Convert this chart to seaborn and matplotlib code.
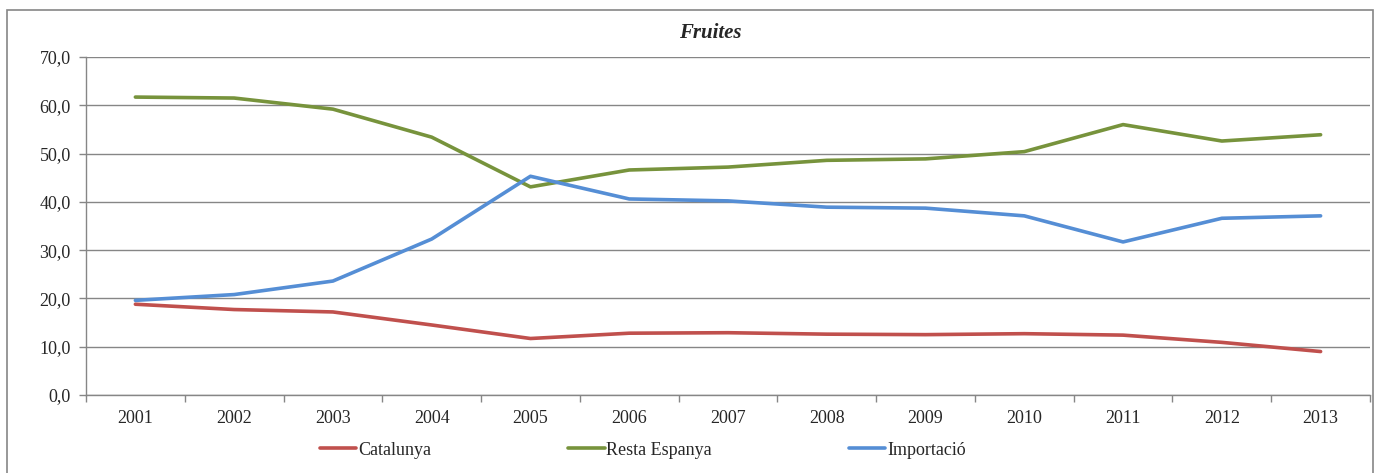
import numpy as np
import pandas as pd
import seaborn as sns
import matplotlib.pyplot as plt
from matplotlib.patches import Rectangle
from matplotlib.ticker import FuncFormatter, FixedLocator

years = ['2001', '2002', '2003', '2004', '2005', '2006', '2007',
         '2008', '2009', '2010', '2011', '2012', '2013']
catalunya = [18.8, 17.7, 17.2, 14.5, 11.7, 12.8, 12.9, 12.6, 12.5, 12.7, 12.4, 10.9, 9.0]
resta_espanya = [61.7, 61.5, 59.2, 53.4, 43.1, 46.6, 47.2, 48.6, 48.9, 50.4, 56.0, 52.6, 53.9]
importacio = [19.6, 20.8, 23.6, 32.3, 45.3, 40.6, 40.2, 38.9, 38.7, 37.1, 31.7, 36.6, 37.1]

series = ['Catalunya', 'Resta Espanya', 'Importació']
colors = ['#C0504D', '#77933C', '#558ED5']

df = pd.concat([
    pd.DataFrame({'year': years, 'pos': np.arange(len(years)), 'value': v, 'name': n})
    for n, v in zip(series, [catalunya, resta_espanya, importacio])
])

sns.set_style('white')
plt.rcParams['font.family'] = ['Liberation Serif', 'DejaVu Serif']

fig = plt.figure(figsize=(13.81, 4.73), dpi=100)
ax = fig.add_axes([86/1381, 1-395/473, (1370-86)/1381, (395-57)/473])

sns.lineplot(ax=ax, data=df, x='pos', y='value', hue='name', hue_order=series,
             palette=colors, linewidth=2.6, legend=False)

ax.set_xlim(-0.5, len(years) - 0.5)
ax.set_ylim(0, 70)
ax.set_yticks(np.arange(0, 71, 10))
ax.yaxis.set_major_formatter(FuncFormatter(lambda v, p: f'{v:.1f}'.replace('.', ',')))
ax.set_xticks(np.arange(len(years)))
ax.set_xticklabels(years)
ax.xaxis.set_minor_locator(FixedLocator(np.arange(-0.5, len(years), 1)))
ax.tick_params(axis='x', which='major', length=0, labelsize=13, pad=11)
ax.tick_params(axis='x', which='minor', length=5, color='#868686', width=1, direction='out', bottom=True)
ax.tick_params(axis='y', length=5, color='#868686', width=1, direction='out', labelsize=13, pad=6, left=True)
ax.set_xlabel('')
ax.set_ylabel('')
ax.grid(axis='y', color='#868686', linewidth=1)
ax.set_axisbelow(True)
for s in ['top', 'right']:
    ax.spines[s].set_visible(False)
for s in ['left', 'bottom']:
    ax.spines[s].set_color('#868686')
    ax.spines[s].set_linewidth(1)

fig.text(710/1381, 1-33/473, 'Fruites', ha='center', va='center',
         fontsize=15, fontweight='bold', fontstyle='italic')

handles = [plt.Line2D([], [], color=c, linewidth=2.6) for c in colors]
fig.legend(handles, series, loc='center', bbox_to_anchor=(643/1381, 1-450/473),
           ncol=3, frameon=False, fontsize=13, handlelength=2.0,
           handletextpad=0.1, columnspacing=7.6)

fig.add_artist(Rectangle((7/1381, -0.05), (1373-7)/1381, 1.05-10/473,
                         transform=fig.transFigure, fill=False,
                         edgecolor='#868686', linewidth=1.2))

fig.savefig('out.png', dpi=100)
